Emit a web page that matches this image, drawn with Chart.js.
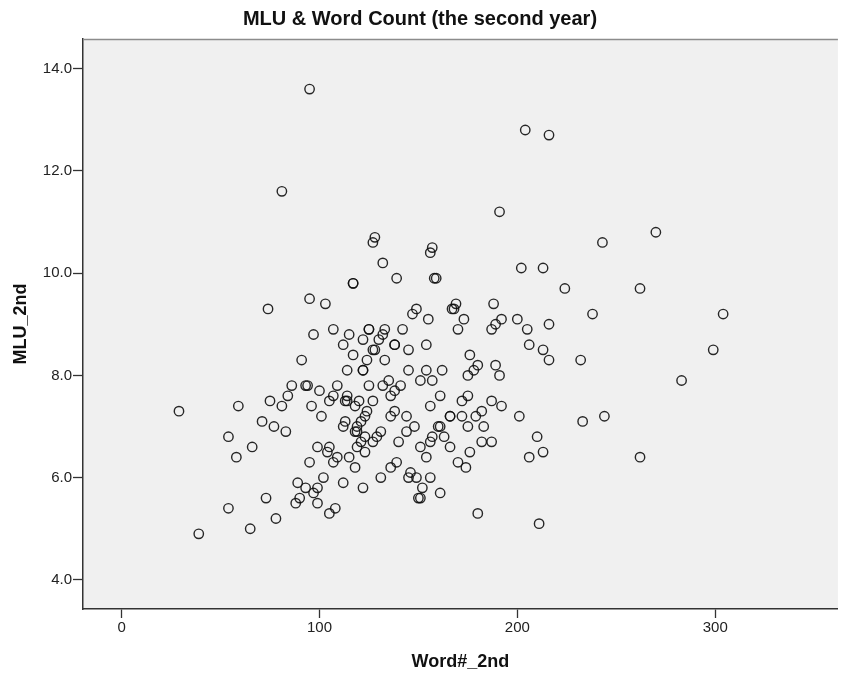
<!DOCTYPE html>
<html>
<head>
<meta charset="utf-8">
<script src="https://cdn.jsdelivr.net/npm/chart.js@4.4.1/dist/chart.umd.min.js"></script>
<style>
  html, body { margin: 0; padding: 0; background: #ffffff; }
  #wrap { width: 844px; height: 677px; }
</style>
</head>
<body>
<div id="wrap"><canvas id="c" width="844" height="677"></canvas></div>
<script>
// Word count (x) and mean length of utterance (y), one entry per child
const wordCount = [
  95, 81, 128, 127, 132, 157, 156, 158, 159, 139, 117, 117, 95, 103, 74, 149, 147, 155, 168, 169, 167,
  204, 216, 191, 270, 243, 202, 213, 224, 262, 188, 173, 192, 200, 238, 304, 189, 187, 216, 170, 205,
  206, 213, 216, 232, 299, 283, 176, 180, 178, 189, 191, 175, 162, 161, 175, 172, 187, 192, 201, 233,
  244, 166, 166, 172, 182, 179, 161, 160, 175, 183, 163, 166, 182, 187, 176, 170, 174, 210, 213, 206,
  262, 161, 180, 211,
  97, 107, 115, 125, 125, 133, 132, 142, 122, 130, 112, 138, 138, 154, 127, 128, 145, 117, 91, 124,
  133, 114, 122, 122, 145, 154, 86, 93, 94, 109, 125, 132, 135, 141, 151, 157, 84, 100, 107, 114,
  138, 136, 75, 81, 105, 113, 114, 120, 127, 118, 96, 59, 29, 124, 156, 101, 71, 77, 83, 113,
  112, 123, 121, 119, 118, 119, 136, 138, 144, 148, 144, 157, 156, 131, 129, 127, 123, 121, 119, 123,
  140, 151, 154, 99, 105, 104, 109, 107, 115, 118, 95, 54, 66, 58, 139, 136, 131, 146, 145, 149,
  156, 152, 150, 151, 122, 112, 102, 89, 93, 99, 97, 90, 88, 99, 108, 105, 73, 54, 78, 65, 39
];
const mlu = [
  13.6, 11.6, 10.7, 10.6, 10.2, 10.5, 10.4, 9.9, 9.9, 9.9, 9.8, 9.8, 9.5, 9.4, 9.3, 9.3, 9.2, 9.1, 9.3, 9.4, 9.3,
  12.8, 12.7, 11.2, 10.8, 10.6, 10.1, 10.1, 9.7, 9.7, 9.4, 9.1, 9.1, 9.1, 9.2, 9.2, 9.0, 8.9, 9.0, 8.9, 8.9,
  8.6, 8.5, 8.3, 8.3, 8.5, 7.9, 8.4, 8.2, 8.1, 8.2, 8.0, 8.0, 8.1, 7.6, 7.6, 7.5, 7.5, 7.4, 7.2, 7.1,
  7.2, 7.2, 7.2, 7.2, 7.3, 7.2, 7.0, 7.0, 7.0, 7.0, 6.8, 6.6, 6.7, 6.7, 6.5, 6.3, 6.2, 6.8, 6.5, 6.4,
  6.4, 5.7, 5.3, 5.1,
  8.8, 8.9, 8.8, 8.9, 8.9, 8.9, 8.8, 8.9, 8.7, 8.7, 8.6, 8.6, 8.6, 8.6, 8.5, 8.5, 8.5, 8.4, 8.3, 8.3,
  8.3, 8.1, 8.1, 8.1, 8.1, 8.1, 7.8, 7.8, 7.8, 7.8, 7.8, 7.8, 7.9, 7.8, 7.9, 7.9, 7.6, 7.7, 7.6, 7.6,
  7.7, 7.6, 7.5, 7.4, 7.5, 7.5, 7.5, 7.5, 7.5, 7.4, 7.4, 7.4, 7.3, 7.3, 7.4, 7.2, 7.1, 7.0, 6.9, 7.1,
  7.0, 7.2, 7.1, 7.0, 6.9, 6.9, 7.2, 7.3, 7.2, 7.0, 6.9, 6.8, 6.7, 6.9, 6.8, 6.7, 6.8, 6.7, 6.6, 6.5,
  6.7, 6.6, 6.4, 6.6, 6.6, 6.5, 6.4, 6.3, 6.4, 6.2, 6.3, 6.8, 6.6, 6.4, 6.3, 6.2, 6.0, 6.1, 6.0, 6.0,
  6.0, 5.8, 5.6, 5.6, 5.8, 5.9, 6.0, 5.9, 5.8, 5.8, 5.7, 5.6, 5.5, 5.5, 5.4, 5.3, 5.6, 5.4, 5.2, 5.0, 4.9
];

const xTicks = [0, 100, 200, 300];
const yTicks = [4, 6, 8, 10, 12, 14];

const points = wordCount.map((w, i) => ({ x: w, y: mlu[i] }));

const FONT = "Arial, 'Liberation Sans', sans-serif";
const INK = '#222222';

// Grey plot panel with a thin frame, painted under the markers
const panel = {
  id: 'panel',
  beforeDraw(chart) {
    const { ctx, chartArea: a } = chart;
    ctx.save();
    ctx.fillStyle = '#f0f0f0';
    ctx.fillRect(a.left, a.top, a.right - a.left, a.bottom - a.top);
    ctx.restore();
  },
  afterDraw(chart) {
    const { ctx, chartArea: a } = chart;
    ctx.save();
    ctx.strokeStyle = '#8c8c8c';
    ctx.lineWidth = 1.5;
    ctx.beginPath();
    ctx.moveTo(a.left, a.top + 0.5);
    ctx.lineTo(a.right, a.top + 0.5);
    ctx.stroke();
    ctx.restore();
  }
};

new Chart(document.getElementById('c'), {
  type: 'scatter',
  data: {
    datasets: [{
      data: points,
      pointStyle: 'circle',
      pointRadius: 4.7,
      pointHoverRadius: 4.7,
      borderWidth: 1.4,
      borderColor: 'rgba(15,15,15,0.9)',
      backgroundColor: 'rgba(0,0,0,0)'
    }]
  },
  options: {
    responsive: false,
    animation: false,
    events: [],
    layout: { padding: { left: 0, right: 4, top: 0, bottom: 0 } },
    plugins: {
      legend: { display: false },
      tooltip: { enabled: false },
      title: {
        display: true,
        text: 'MLU & Word Count (the second year)',
        color: '#111',
        font: { family: FONT, size: 20, weight: 'bold', lineHeight: 1.2 },
        padding: { top: 7, bottom: 8 }
      }
    },
    scales: {
      x: {
        type: 'linear',
        min: -19.5,
        max: 362,
        afterFit(s) { s.height = 68; },
        afterBuildTicks(s) { s.ticks = xTicks.map(v => ({ value: v })); },
        ticks: {
          color: INK,
          font: { family: FONT, size: 15 },
          padding: 1,
          maxRotation: 0,
          callback: v => String(v)
        },
        grid: { drawOnChartArea: false, drawTicks: true, tickLength: 9, tickWidth: 1.3, color: '#333' },
        border: { display: true, color: '#333', width: 1.5 },
        title: {
          display: true,
          text: 'Word#_2nd',
          color: '#111',
          font: { family: FONT, size: 18, weight: 'bold', lineHeight: 1.2 },
          padding: { top: 0, bottom: 4 }
        }
      },
      y: {
        type: 'linear',
        min: 3.43,
        max: 14.58,
        afterFit(s) { s.width = 83; },
        afterBuildTicks(s) { s.ticks = yTicks.map(v => ({ value: v })); },
        ticks: {
          color: INK,
          font: { family: FONT, size: 15 },
          padding: 1,
          callback: v => Number(v).toFixed(1)
        },
        grid: { drawOnChartArea: false, drawTicks: true, tickLength: 10, tickWidth: 1.3, color: '#333' },
        border: { display: true, color: '#333', width: 1.5 },
        title: {
          display: true,
          text: 'MLU_2nd',
          color: '#111',
          font: { family: FONT, size: 18, weight: 'bold', lineHeight: 1.2 },
          padding: { top: 10, bottom: 0 }
        }
      }
    }
  },
  plugins: [panel]
});
</script>
</body>
</html>
